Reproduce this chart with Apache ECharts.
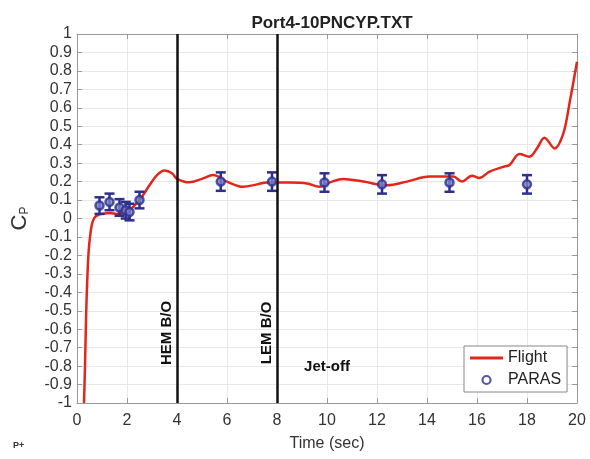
<!DOCTYPE html>
<html>
<head>
<meta charset="utf-8">
<script src="https://cdn.jsdelivr.net/npm/echarts@6/dist/echarts.min.js"></script>
<style>
  html, body { margin: 0; padding: 0; background: #fff; }
  #main { width: 590px; height: 459px; }
</style>
</head>
<body>
<div id="main"></div>
<script>
// flight Cp trace
var flightT = [0.28, 0.32, 0.37, 0.42, 0.47, 0.53, 0.6, 0.7, 0.85, 1.0, 1.3, 1.6, 1.9, 2.1, 2.5, 2.9, 3.2, 3.5, 3.8, 4.0,
  4.5, 5.0, 5.45, 6.0, 6.65, 7.2, 7.6, 8.5, 9.2, 9.7, 10.2, 10.65, 11.45, 12.4, 13.2, 14.1, 15.05, 15.4, 15.8,
  16.1, 16.5, 17.05, 17.3, 17.7, 18.1, 18.4, 18.7, 19.1, 19.45, 19.72, 20];
var flightCp = [-1, -0.8, -0.5, -0.3, -0.17, -0.09, -0.03, 0.005, 0.02, 0.025, 0.03, 0.025, 0.03, 0.045, 0.1, 0.18, 0.235, 0.26, 0.245, 0.215,
  0.196, 0.215, 0.236, 0.2, 0.172, 0.185, 0.195, 0.195, 0.19, 0.172, 0.2, 0.214, 0.2, 0.18, 0.2, 0.227, 0.227, 0.2, 0.232,
  0.22, 0.254, 0.28, 0.29, 0.35, 0.335, 0.38, 0.438, 0.38, 0.46, 0.64, 0.85];

// PARAS wind tunnel points with error bars
var parasT = [0.9, 1.3, 1.7, 1.95, 2.1, 2.5, 5.75, 7.8, 9.9, 12.2, 14.9, 18.0];
var parasCp = [0.07, 0.09, 0.06, 0.045, 0.035, 0.1, 0.2, 0.2, 0.195, 0.185, 0.195, 0.185];
var parasErr = [0.045, 0.045, 0.045, 0.045, 0.045, 0.045, 0.05, 0.05, 0.05, 0.05, 0.05, 0.05];

// event lines
var eventT = [4, 8];
var eventNames = ['HEM B/O', 'LEM B/O'];

var RED = '#e2261c';
var BLUE = '#2c2f8e';
var FONT = 'Liberation Sans';

var flightData = flightT.map(function (t, i) { return [t, flightCp[i]]; });
var parasData = parasT.map(function (t, i) { return [t, parasCp[i]]; });
var errData = parasT.map(function (t, i) { return [t, parasCp[i] - parasErr[i], parasCp[i] + parasErr[i]]; });

function yLabel(v) {
  var s = v.toFixed(1);
  if (s === '1.0') return '1';
  if (s === '-1.0') return '-1';
  if (s === '0.0' || s === '-0.0') return '0';
  return s;
}

var myChart = echarts.init(document.getElementById('main'));

var option = {
  backgroundColor: '#fff',
  animation: false,
  title: {
    text: 'Port4-10PNCYP.TXT',
    left: 327,
    textAlign: 'center',
    top: 10,
    textStyle: { fontFamily: FONT, fontSize: 17, fontWeight: 'bold', color: '#222' }
  },
  grid: { left: 77, right: 13, top: 34, bottom: 56 },
  legend: {
    orient: 'vertical',
    left: 464,
    top: 346,
    padding: [4, 6, 4, 6],
    itemGap: 6,
    itemWidth: 33,
    itemHeight: 8,
    backgroundColor: '#fff',
    borderColor: '#888',
    borderWidth: 1,
    borderRadius: 0,
    textStyle: { fontFamily: FONT, fontSize: 16, color: '#222' },
    data: [
      { name: 'Flight', icon: 'path://M0,0 L0.01,0 Z M0,2.6 L33,2.6 L33,5.4 L0,5.4 Z M0,8 L0.01,8 Z',
        itemStyle: { color: RED, borderWidth: 0 } },
      { name: 'PARAS', icon: 'circle',
        itemStyle: { color: '#fff', borderColor: BLUE, borderWidth: 2.2 } }
    ]
  },
  xAxis: [{
    type: 'value',
    min: 0, max: 20, interval: 2,
    name: 'Time (sec)',
    nameLocation: 'middle',
    nameGap: 33,
    nameTextStyle: { fontFamily: FONT, fontSize: 16, color: '#333' },
    axisLine: { onZero: false, lineStyle: { color: '#999', width: 1 } },
    axisTick: { inside: true, length: 5, lineStyle: { color: '#999' } },
    axisLabel: { fontFamily: FONT, fontSize: 16, color: '#333', margin: 10 },
    splitLine: { show: true, lineStyle: { color: '#e8e8e8', width: 1 } }
  }, {
    type: 'value', position: 'top',
    min: 0, max: 20, interval: 2,
    axisLine: { onZero: false, lineStyle: { color: '#999', width: 1 } },
    axisTick: { inside: true, length: 5, lineStyle: { color: '#999' } },
    axisLabel: { show: false },
    splitLine: { show: false }
  }],
  yAxis: [{
    type: 'value',
    min: -1, max: 1, interval: 0.1,
    name: '{c|C}{p|P}',
    nameLocation: 'middle',
    nameGap: 46,
    nameRotate: 90,
    nameTextStyle: {
      color: '#333',
      rich: {
        c: { fontFamily: FONT, fontSize: 22, color: '#333' },
        p: { fontFamily: FONT, fontSize: 12, color: '#333', verticalAlign: 'bottom', padding: [10, 0, 0, 0] }
      }
    },
    axisLine: { onZero: false, lineStyle: { color: '#999', width: 1 } },
    axisTick: { inside: true, length: 5, lineStyle: { color: '#999' } },
    axisLabel: { fontFamily: FONT, fontSize: 16, color: '#333', margin: 5, formatter: yLabel },
    splitLine: { show: true, lineStyle: { color: '#e8e8e8', width: 1 } }
  }, {
    type: 'value', position: 'right',
    min: -1, max: 1, interval: 0.1,
    axisLine: { show: true, onZero: false, lineStyle: { color: '#999', width: 1 } },
    axisTick: { show: true, inside: true, length: 5, lineStyle: { color: '#999' } },
    axisLabel: { show: false },
    splitLine: { show: false }
  }],
  series: [{
    name: 'events',
    type: 'line',
    data: [],
    markLine: {
      silent: true,
      symbol: 'none',
      label: { show: false },
      lineStyle: { color: '#111', width: 2.5, type: 'solid' },
      data: eventT.map(function (t) { return { xAxis: t }; })
    }
  }, {
    name: 'Flight',
    type: 'line',
    smooth: 0.35,
    symbol: 'none',
    color: RED,
    lineStyle: { color: RED, width: 2.5 },
    data: flightData,
    z: 3
  }, {
    name: 'errbars',
    type: 'custom',
    z: 4,
    data: errData,
    renderItem: function (params, api) {
      var lo = api.coord([api.value(0), api.value(1)]);
      var hi = api.coord([api.value(0), api.value(2)]);
      var hw = 5;
      var st = { stroke: BLUE, lineWidth: 2.5 };
      return {
        type: 'group',
        children: [
          { type: 'line', shape: { x1: lo[0], y1: lo[1], x2: hi[0], y2: hi[1] }, style: st },
          { type: 'line', shape: { x1: lo[0] - hw, y1: lo[1], x2: lo[0] + hw, y2: lo[1] }, style: st },
          { type: 'line', shape: { x1: hi[0] - hw, y1: hi[1], x2: hi[0] + hw, y2: hi[1] }, style: st }
        ]
      };
    }
  }, {
    name: 'PARAS',
    type: 'scatter',
    symbol: 'circle',
    symbolSize: 8,
    z: 5,
    color: BLUE,
    itemStyle: { color: '#7c80c8', borderColor: BLUE, borderWidth: 2.5 },
    data: parasData
  }]
};
myChart.setOption(option);

// annotation texts placed from data coordinates
var gfx = [];
eventT.forEach(function (t, i) {
  var p = myChart.convertToPixel({ xAxisIndex: 0, yAxisIndex: 0 }, [t - 0.42, -0.62]);
  gfx.push({
    type: 'text', x: p[0], y: p[1], rotation: Math.PI / 2,
    style: { text: eventNames[i], fontFamily: FONT, fontSize: 15, fontWeight: 'bold', fill: '#111',
      align: 'center', verticalAlign: 'middle' }
  });
});
var pj = myChart.convertToPixel({ xAxisIndex: 0, yAxisIndex: 0 }, [10, -0.805]);
gfx.push({
  type: 'text', x: pj[0], y: pj[1],
  style: { text: 'Jet-off', fontFamily: FONT, fontSize: 15, fontWeight: 'bold', fill: '#111',
    align: 'center', verticalAlign: 'middle' }
});
gfx.push({
  type: 'text', left: 13, top: 441,
  style: { text: 'P+', fontFamily: FONT, fontSize: 9, fontWeight: 'bold', fill: '#333' }
});
myChart.setOption({ graphic: gfx });
</script>
</body>
</html>
